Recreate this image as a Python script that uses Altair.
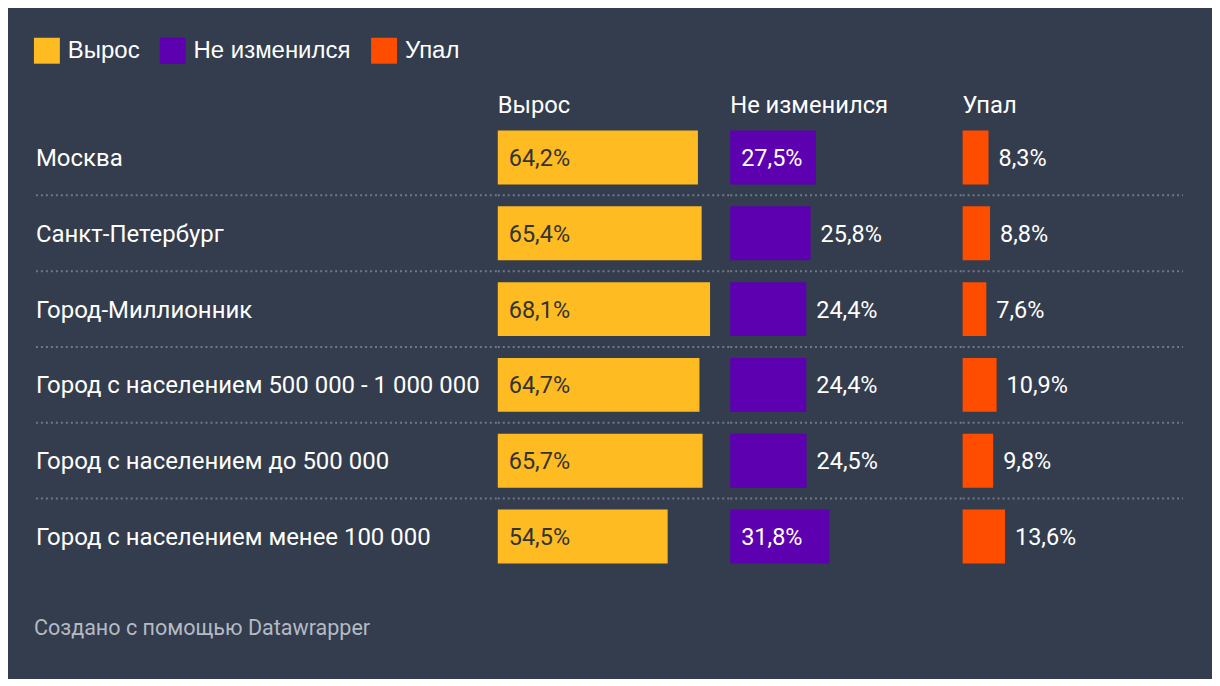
import altair as alt
import pandas as pd

cities = [
    "Москва",
    "Санкт-Петербург",
    "Город-Миллионник",
    "Город с населением 500 000 - 1 000 000",
    "Город с населением до 500 000",
    "Город с населением менее 100 000",
]
grew = [64.2, 65.4, 68.1, 64.7, 65.7, 54.5]
same = [27.5, 25.8, 24.4, 24.4, 24.5, 31.8]
fell = [8.3, 8.8, 7.6, 10.9, 9.8, 13.6]
series = ["Вырос", "Не изменился", "Упал"]
colors = ["#ffbb22", "#5c00b0", "#ff4d00"]
footer = "Создано с помощью Datawrapper"

BG = "#333d4d"
ROW_H = 456
PX_PER_PCT = 3.125

rows = []
for i, c in enumerate(cities):
    for s, vals in zip(series, [grew, same, fell]):
        rows.append({"city": c, "series": s, "value": vals[i], "idx": i})
df = pd.DataFrame(rows)

yscale = alt.Scale(domain=cities, paddingInner=0.2895, paddingOuter=0.14475)
yenc = alt.Y("city:N", scale=yscale, axis=None)
color_scale = alt.Scale(domain=series, range=colors)
label_expr = "replace(format(datum.value, '.1f'), '.', ',') + '%'"

def sep_layer(x0, width):
    return alt.Chart(df).transform_filter(
        f"datum.series == '{series[0]}' && datum.idx < {len(cities) - 1}"
    ).mark_rule(color="#6f7885", strokeDash=[2, 3], strokeWidth=2, yOffset=11).encode(
        y=alt.Y("city:N", scale=yscale, axis=None, bandPosition=1),
        x=alt.value(x0),
        x2=alt.value(width),
    )

# label panel
label_w = 465
labels = alt.Chart(df).transform_filter(f"datum.series == '{series[0]}'").mark_text(
    align="left", baseline="middle", font="Roboto", fontSize=24, color="#ffffff", dx=2, dy=1.5
).encode(y=yenc, x=alt.value(0), text="city:N")
foot = alt.Chart(pd.DataFrame({"t": [footer]})).mark_text(
    align="left", baseline="middle", font="Roboto", fontSize=21.6, color="#b4bac4"
).encode(x=alt.value(0), y=alt.value(511), text="t:N")
label_panel = alt.layer(sep_layer(2, label_w), labels, foot).properties(
    width=label_w, height=ROW_H
)

def bar_panel(s, width, inside_thr, inside_color):
    dom = [0, width / PX_PER_PCT]
    xs = alt.Scale(domain=dom, nice=False, zero=True)
    base = alt.Chart(df).transform_filter(f"datum.series == '{s}'").transform_calculate(
        label=label_expr
    )
    bars = base.mark_bar(height=54, cornerRadius=0).encode(
        y=yenc,
        x=alt.X("value:Q", scale=xs, axis=None),
        color=alt.Color(
            "series:N",
            scale=color_scale,
            legend=alt.Legend(
                title=None,
                orient="none",
                direction="horizontal",
                legendX=0,
                legendY=-82,
                symbolType="square",
                symbolSize=676,
                symbolStrokeWidth=0,
                symbolOpacity=1,
                labelFont="Liberation Sans",
                labelFontSize=24,
                labelColor="#ffffff",
                labelOffset=8,
                columnPadding=20,
                values=series,
            ),
        ),
    )
    inside = base.transform_filter(f"datum.value >= {inside_thr}").mark_text(
        align="left", baseline="middle", font="Roboto", fontSize=23.5, color=inside_color, dx=11, dy=1.5
    ).encode(y=yenc, x=alt.value(0), text="label:N")
    outside = base.transform_filter(f"datum.value < {inside_thr}").mark_text(
        align="left", baseline="middle", font="Roboto", fontSize=23.5, color="#ffffff", dx=10, dy=1.5
    ).encode(y=yenc, x=alt.X("value:Q", scale=xs, axis=None), text="label:N")
    return alt.layer(sep_layer(0, width), bars, inside, outside).properties(
        width=width,
        height=ROW_H,
        title=alt.TitleParams(
            s, anchor="start", font="Roboto", fontSize=23.8, fontWeight="normal",
            color="#ffffff", offset=2, dx=1,
        ),
    )

p1 = bar_panel(series[0], 233, 0, "#333333")
p2 = bar_panel(series[1], 233, 26.5, "#ffffff")
p3 = bar_panel(series[2], 221, 100, "#ffffff")

chart = alt.hconcat(label_panel, p1, p2, p3, spacing=0, bounds="flush").properties(
    background=BG,
    padding={"left": 26, "top": 29, "right": 28, "bottom": 38},
).configure_view(stroke=None).configure_concat(spacing=0)

chart.save("out.html", embed_options={"renderer": "svg", "actions": False})
